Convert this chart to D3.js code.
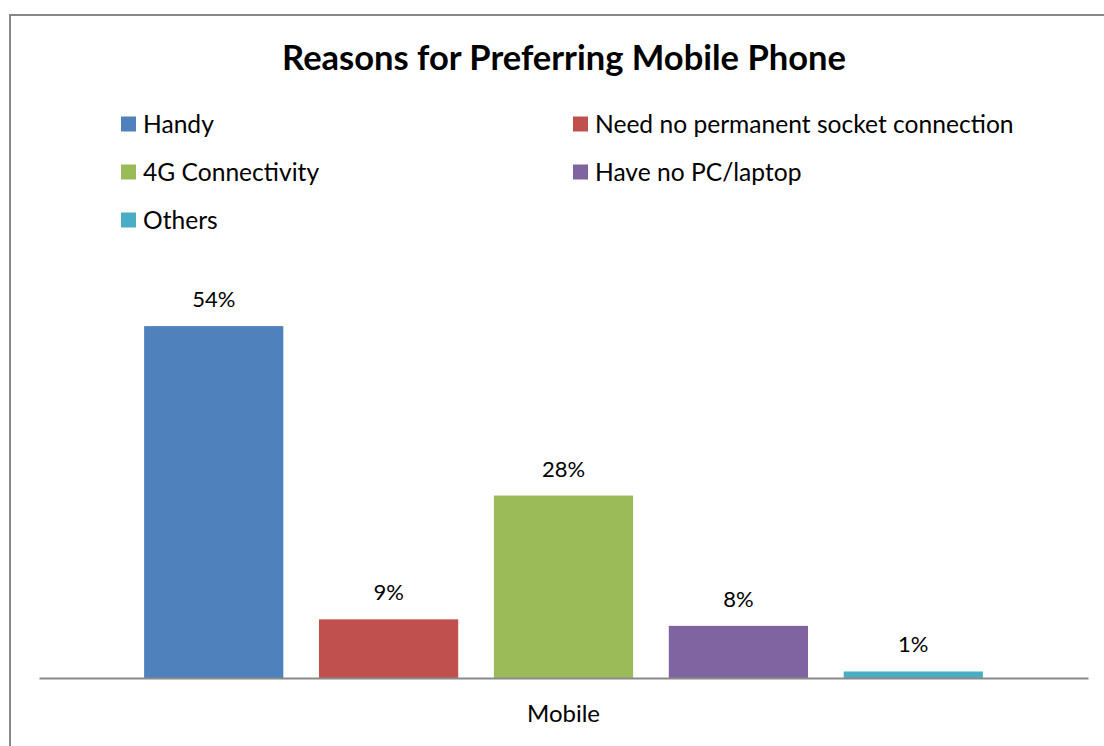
<!DOCTYPE html>
<html>
<head>
<meta charset="utf-8">
<script src="https://cdn.jsdelivr.net/npm/d3@7"></script>
<style>
  html, body { margin: 0; padding: 0; background: #fff; }
  svg { display: block; }
  text { font-family: Lato, "Open Sans", sans-serif; fill: #000; }
</style>
</head>
<body>
<svg id="chart" width="1104" height="746"></svg>
<script>
// Survey results: reasons for preferring a mobile phone
const categories = ["Mobile"];
const seriesNames = [
  "Handy",
  "Need no permanent socket connection",
  "4G Connectivity",
  "Have no PC/laptop",
  "Others"
];
const seriesValues = [0.54, 0.09, 0.28, 0.08, 0.01];
const seriesColors = ["#4F81BD", "#C0504D", "#9BBB59", "#8064A2", "#4BACC6"];
const chartTitle = "Reasons for Preferring Mobile Phone";

const svg = d3.select("#chart");
const W = 1104, H = 746;

// outer frame of the chart
svg.append("rect")
  .attr("x", 10).attr("y", 15)
  .attr("width", W + 20).attr("height", H + 20)
  .attr("fill", "#fff")
  .attr("stroke", "#878787")
  .attr("stroke-width", 2);

// title
svg.append("text")
  .attr("x", 564).attr("y", 70)
  .attr("text-anchor", "middle")
  .style("font-weight", "bold")
  .style("font-size", "34.5px")
  .text(chartTitle);

// legend: two columns, filled row by row
const legendCols = [121, 573];
const legendRows = [124, 172, 220];
const legend = svg.append("g");
seriesNames.forEach((name, i) => {
  const cx = legendCols[i % 2];
  const cy = legendRows[Math.floor(i / 2)];
  const g = legend.append("g").attr("transform", `translate(${cx},${cy})`);
  g.append("rect")
    .attr("x", 0).attr("y", -7.5)
    .attr("width", 15).attr("height", 15)
    .attr("fill", seriesColors[i]);
  g.append("text")
    .attr("x", 22).attr("y", 0)
    .attr("dy", "0.36em")
    .style("font-size", "24.6px")
    .text(name);
});

// plot scales
const plotLeft = 39, plotRight = 1088, baseY = 678;
const x0 = d3.scaleBand().domain(categories).range([plotLeft, plotRight]).padding(0);
const x1 = d3.scaleBand()
  .domain(seriesNames)
  .range([0, x0.bandwidth()])
  .paddingInner(0.204)
  .paddingOuter(0.601);
const y = d3.scaleLinear().domain([0, 0.6]).range([baseY, 287]);

const fmt = d3.format(".0%");

categories.forEach(cat => {
  const g = svg.append("g").attr("transform", `translate(${x0(cat)},0)`);
  g.selectAll("rect.bar")
    .data(seriesValues)
    .join("rect")
    .attr("class", "bar")
    .attr("x", (d, i) => x1(seriesNames[i]))
    .attr("y", d => y(d))
    .attr("width", x1.bandwidth())
    .attr("height", d => y(0) - y(d))
    .attr("fill", (d, i) => seriesColors[i]);

  g.selectAll("text.lbl")
    .data(seriesValues)
    .join("text")
    .attr("class", "lbl")
    .attr("x", (d, i) => x1(seriesNames[i]) + x1.bandwidth() / 2)
    .attr("y", d => y(d) - 19)
    .attr("text-anchor", "middle")
    .style("font-size", "22px")
    .text(d => fmt(d));
});

// category axis
const xAxis = svg.append("g")
  .attr("transform", `translate(0,${baseY})`)
  .call(d3.axisBottom(x0).tickSize(0).tickPadding(27));
xAxis.select(".domain").attr("stroke", "#8a8a8a").attr("stroke-width", 2);
xAxis.selectAll(".tick text")
  .style("font-family", "Lato, 'Open Sans', sans-serif")
  .style("font-size", "24px")
  .attr("fill", "#000");
</script>
</body>
</html>
